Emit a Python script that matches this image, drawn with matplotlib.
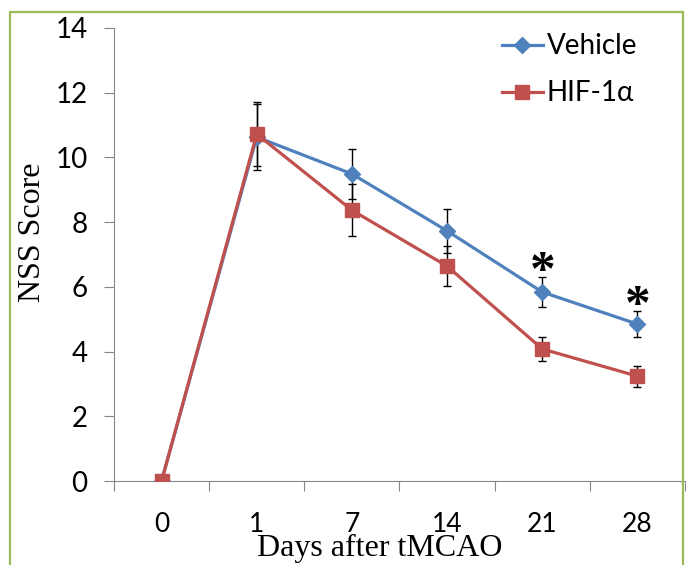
import numpy as np
import matplotlib
matplotlib.use("Agg")
import matplotlib.pyplot as plt
from matplotlib.patches import Rectangle

# dane
dni = ["0", "1", "7", "14", "21", "28"]
vehicle = [0.0, 10.63, 9.49, 7.73, 5.84, 4.85]
vehicle_err = [0.0, 1.02, 0.78, 0.67, 0.47, 0.40]
hif = [0.0, 10.72, 8.37, 6.64, 4.08, 3.24]
hif_err = [0.0, 1.0, 0.80, 0.62, 0.36, 0.32]
gwiazdki = ["21", "28"]

niebieski = "#4F81BD"
czerwony = "#C0504D"
szary = "#868686"

fig = plt.figure(figsize=(6.86, 5.65), dpi=100)
ax = fig.add_axes([114 / 686, 1 - 481 / 565, 571 / 686, 453 / 565])

x = np.arange(len(dni))

ax.errorbar(x, vehicle, yerr=vehicle_err, fmt="none", ecolor="black",
            elinewidth=1, capsize=3, capthick=1, zorder=2)
ax.errorbar(x, hif, yerr=hif_err, fmt="none", ecolor="black",
            elinewidth=1, capsize=3, capthick=1, zorder=2)
ax.plot(x, vehicle, color=niebieski, lw=2.3, marker="D", ms=8,
        label="Vehicle", zorder=3)
ax.plot(x, hif, color=czerwony, lw=2.3, marker="s", ms=10,
        label="HIF-1α", zorder=4)

# gwiazdki istotnosci
for d in gwiazdki:
    i = dni.index(d)
    ax.text(i, vehicle[i] + vehicle_err[i] + 0.13, "*", ha="center", va="center",
            fontsize=37, family="Liberation Serif", fontweight="bold", color="black")

ax.set_xlim(-0.5, len(dni) - 0.5)
ax.set_ylim(0, 14)
ax.set_yticks(np.arange(0, 15, 2))
ax.set_xticks(x)
ax.set_xticklabels(dni)
ax.set_xticks(np.arange(-0.5, len(dni), 1), minor=True)
ax.tick_params(axis="x", which="major", length=0, pad=22, labelsize=19)
ax.tick_params(axis="x", which="minor", length=7, width=0.8, color=szary, direction="out")
ax.tick_params(axis="y", length=7, width=0.8, color=szary, pad=12, labelsize=20)
for lab in ax.get_xticklabels() + ax.get_yticklabels():
    lab.set_family("Lato")

for s in ["top", "right"]:
    ax.spines[s].set_visible(False)
for s in ["left", "bottom"]:
    ax.spines[s].set_color(szary)
    ax.spines[s].set_linewidth(0.8)

ax.set_ylabel("NSS Score", family="Liberation Serif", fontsize=23)
ax.yaxis.set_label_coords(-0.118, 0.55)
ax.set_xlabel("Days after tMCAO", family="Liberation Serif", fontsize=23)
ax.xaxis.set_label_coords(0.466, -0.118)

leg = ax.legend(loc="upper left", bbox_to_anchor=(0.68, 0.988), frameon=False,
                prop={"family": "Lato", "size": 20}, handlelength=1.45,
                handletextpad=0.15, labelspacing=0.75, borderpad=0,
                borderaxespad=0)

# zielona ramka
fig.patches.append(Rectangle((10 / 686, -0.1), 673 / 686, 1.1 - 12 / 565,
                             transform=fig.transFigure, fill=False,
                             edgecolor="#9BBB59", lw=1.6))

fig.savefig("out.png", dpi=100)
